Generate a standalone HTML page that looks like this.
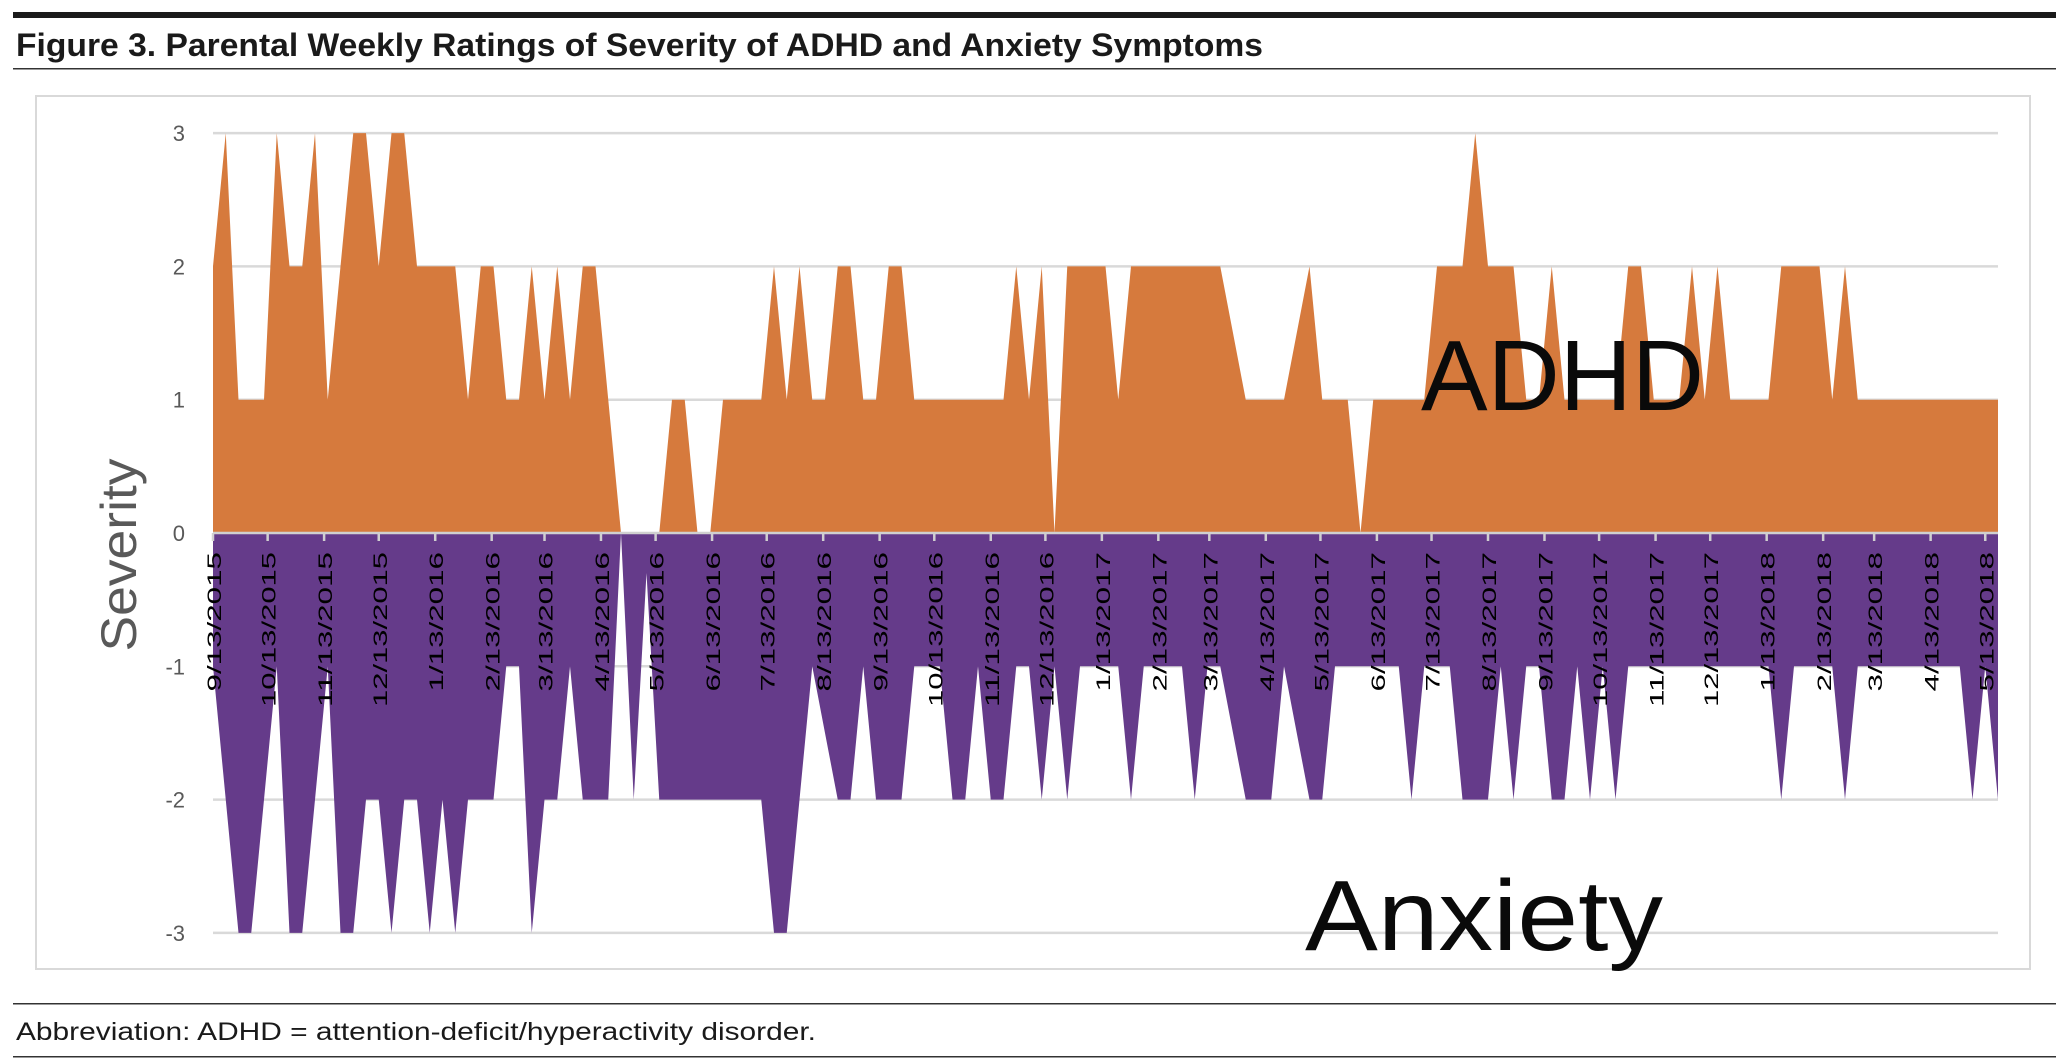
<!DOCTYPE html>
<html><head><meta charset="utf-8"><style>
body{margin:0;background:#fff}
svg{display:block}
</style></head><body>
<svg id="chart" width="2067" height="1064" viewBox="0 0 2067 1064" xmlns="http://www.w3.org/2000/svg">
<rect x="13" y="12" width="2043" height="6" fill="#1a1a1a"/>
<text x="16" y="56" font-family="Liberation Sans, sans-serif" font-weight="bold" font-size="32" fill="#1a1a1a" textLength="1247" lengthAdjust="spacingAndGlyphs">Figure 3. Parental Weekly Ratings of Severity of ADHD and Anxiety Symptoms</text>
<rect x="13" y="68" width="2043" height="1.5" fill="#333"/>
<rect x="36" y="96" width="1994" height="873" fill="#fff" stroke="#d9d9d9" stroke-width="2"/>
<g id="grid"></g>
<g id="areas"></g>
<g id="axis"></g>
<g id="yaxis"></g>
<text transform="translate(136,555) rotate(-90)" text-anchor="middle" font-family="Liberation Sans, sans-serif" font-size="50" fill="#595959" textLength="193" lengthAdjust="spacingAndGlyphs">Severity</text>
<text x="1421" y="410" font-family="Liberation Sans, sans-serif" font-size="100" fill="#0a0a0a" textLength="283" lengthAdjust="spacingAndGlyphs">ADHD</text>
<text x="1305" y="950" font-family="Liberation Sans, sans-serif" font-size="100" fill="#0a0a0a" textLength="358" lengthAdjust="spacingAndGlyphs">Anxiety</text>
<rect x="13" y="1003" width="2043" height="1.5" fill="#333"/>
<text x="16" y="1040" font-family="Liberation Sans, sans-serif" font-size="25" fill="#1a1a1a" textLength="800" lengthAdjust="spacingAndGlyphs">Abbreviation: ADHD = attention-deficit/hyperactivity disorder.</text>
<rect x="13" y="1056" width="2043" height="1.5" fill="#333"/>
</svg>
<script>
const adhd = [2,3,1,1,1,3,2,2,3,1,2,3,3,2,3,3,2,2,2,2,1,2,2,1,1,2,1,2,1,2,2,1,0,0,0,0,1,1,0,0,
1,1,1,1,2,1,2,1,1,2,2,1,1,2,2,1,1,1,1,1,1,1,1,2,1,2,0,2,2,2,2,1,2,2,2,2,2,2,2,2,1.5,1,1,1,1,1.5,2,1,1,1,0,1,1,1,1,1,2,2,2,3,2,2,2,1,1,2,1,1,1,1,1,2,2,1,1,1,2,1,2,1,1,1,1,2,2,2,2,1,2,1,1,1,1,1,1,1,1,1,1,1,1];
const anxiety = [-1,-2,-3,-3,-2,-1,-3,-3,-2,-1,-3,-3,-2,-2,-3,-2,-2,-3,-2,-3,-2,-2,-2,-1,-1,-3,-2,-2,-1,-2,-2,-2,0,-2,-0.3,-2,
-2,-2,-2,-2,-2,-2,-2,-2,-3,-3,-2,-1,-1.5,-2,-2,-1,-2,-2,-2,-1,-1,-1,-2,-2,-1,-2,-2,-1,-1,-2,-1,-2,
-1,-1,-1,-1,-2,-1,-1,-1,-1,-2,-1,-1,-1.5,-2,-2,-2,-1,-1.5,-2,-2,-1,-1,-1,-1,-1,-1,-2,-1,-1,-1,-2,-2,-2,-1,-2,-1,
-1,-2,-2,-1,-2,-1,-2,-1,-1,-1,-1,-1,-1,-1,-1,-1,-1,-1,-1,-2,-1,-1,-1,-1,-2,-1,-1,-1,-1,-1,-1,-1,-1,-1,-2,-1,-2];
const tickLabels = ["9/13/2015","10/13/2015","11/13/2015","12/13/2015","1/13/2016","2/13/2016","3/13/2016","4/13/2016","5/13/2016","6/13/2016","7/13/2016","8/13/2016","9/13/2016","10/13/2016","11/13/2016","12/13/2016","1/13/2017","2/13/2017","3/13/2017","4/13/2017","5/13/2017","6/13/2017","7/13/2017","8/13/2017","9/13/2017","10/13/2017","11/13/2017","12/13/2017","1/13/2018","2/13/2018","3/13/2018","4/13/2018","5/13/2018"];
const tickDays = [0,30,61,91,122,153,182,213,243,274,304,335,366,396,427,457,488,519,547,578,608,639,669,700,731,761,792,822,853,884,912,943,973];
const yTicks = [3,2,1,0,-1,-2,-3];

const NS="http://www.w3.org/2000/svg";
const X0=213, X1=1998, N=adhd.length;
const wk=(X1-X0)/(N-1);
const x=i=>X0+i*wk;
const xDay=d=>X0+d/7*wk;
const y=v=>533-v*133.3;
function mk(tag,attrs,parent){const e=document.createElementNS(NS,tag);for(const k in attrs)e.setAttribute(k,attrs[k]);parent.appendChild(e);return e;}
const grid=document.getElementById('grid'), areas=document.getElementById('areas'), axis=document.getElementById('axis'), yaxis=document.getElementById('yaxis');
yTicks.forEach(v=>{
  if(v!==0){const l=mk('line',{x1:X0,x2:X1,y1:y(v),y2:y(v),stroke:'#d9d9d9','stroke-width':2.5},grid);
  
  }
  const t=mk('text',{x:185,y:y(v)+8,'text-anchor':'end','font-family':'Liberation Sans, sans-serif','font-size':22,fill:'#595959'},yaxis);
  t.textContent=String(v);
  
  
});
function area(vals,color,name){
  let d=`M${x(0)},${y(0)}`;
  vals.forEach((v,i)=>{d+=` L${x(i)},${y(v)}`;});
  d+=` L${x(vals.length-1)},${y(0)} Z`;
  const p=mk('path',{d:d,fill:color},areas);
  
  
}
area(adhd,'#D67A3D','adhd-area');
area(anxiety,'#653B8A','anxiety-area');
const al=mk('line',{x1:X0,x2:X1,y1:y(0),y2:y(0),stroke:'#d0d0d0','stroke-width':2.5},axis);


tickLabels.forEach((lab,k)=>{
  const tx=xDay(tickDays[k]);
  const tk=mk('line',{x1:tx,x2:tx,y1:y(0),y2:y(0)+8,stroke:'#d0d0d0','stroke-width':2.5},axis);
  
  
  const t=mk('text',{transform:`translate(${tx+8},${y(0)+19}) rotate(-90)`,'text-anchor':'end','font-family':'Liberation Sans Narrow, Liberation Sans, sans-serif','font-size':19,fill:'#000',textLength:lab.length*15.5,lengthAdjust:'spacingAndGlyphs'},axis);
  t.textContent=lab;
  
  
});
</script>
</body></html>
